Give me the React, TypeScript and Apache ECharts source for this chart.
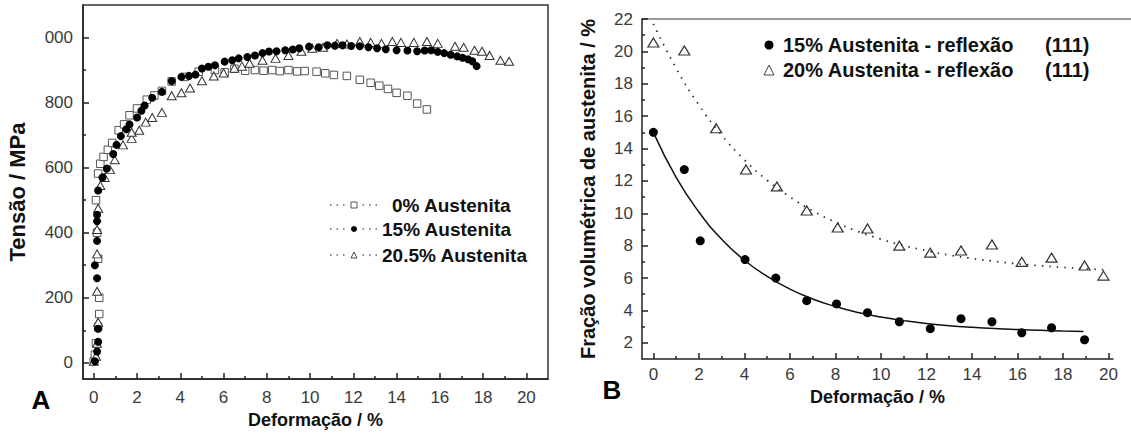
import React, { useEffect, useRef } from 'react';
import * as echarts from 'echarts';

const FONT = 'Liberation Sans, Arial, Helvetica, sans-serif';

// ---- axis ticks ----
const xMajorTicks = [0, 2, 4, 6, 8, 10, 12, 14, 16, 18, 20];
const xMinorTicks = [1, 3, 5, 7, 9, 11, 13, 15, 17, 19];
const yMajorTicksA = [0, 200, 400, 600, 800, 1000];
const yMinorTicksA = [100, 300, 500, 700, 900];
const yMajorTicksB = [2, 4, 6, 8, 10, 12, 14, 16, 18, 20, 22];
const yMinorTicksB = [3, 5, 7, 9, 11, 13, 15, 17, 19, 21];

// ---- texts ----
const legendA = ['0% Austenita', '15% Austenita', '20.5% Austenita'];
const legendB = ['15% Austenita - reflexão', '20% Austenita - reflexão'];
const legendBPlane = '(111)';

// ---- panel A: stress-strain (x = deformação %, y = tensão MPa) ----
const austenita0: number[][] = [
  [0, 5], [0.05, 25], [0.1, 60], [0.2, 110], [0.25, 150], [0.25, 200], [0.2, 320], [0.15, 400],
  [0.1, 500], [0.2, 582], [0.3, 612], [0.45, 633], [0.65, 655], [0.85, 676], [1.15, 715],
  [1.4, 733], [1.65, 761], [2.0, 782], [2.45, 809], [2.8, 822], [3.15, 836], [3.6, 865],
  [4.2, 879], [4.85, 895], [5.6, 900], [6.05, 893], [6.5, 904], [7.0, 898], [7.45, 900],
  [7.85, 898], [8.25, 900], [8.6, 897], [9.0, 900], [9.4, 896], [9.75, 897], [10.3, 895],
  [10.7, 890], [11.1, 885], [11.7, 882], [12.3, 870], [12.8, 861], [13.2, 852], [13.6, 842],
  [14.0, 830], [14.5, 821], [14.95, 797], [15.4, 779],
];
const austenita15: number[][] = [
  [0.05, 5], [0.15, 35], [0.2, 65], [0.2, 105], [0.15, 260], [0.05, 300], [0.15, 375],
  [0.15, 435], [0.15, 455], [0.2, 530], [0.4, 570], [0.6, 597], [0.9, 642], [1.05, 670],
  [1.25, 697], [1.5, 718], [1.65, 733], [2.0, 754], [2.2, 775], [2.35, 791], [2.7, 815],
  [3.15, 833], [3.6, 866], [4.05, 879], [4.4, 882], [4.7, 886], [5.0, 905], [5.3, 910],
  [5.6, 915], [6.05, 926], [6.4, 930], [6.7, 936], [7.1, 940], [7.45, 945], [7.8, 952],
  [8.1, 957], [8.45, 958], [8.85, 961], [9.2, 963], [9.5, 967], [9.95, 972], [10.4, 970],
  [10.8, 976], [11.15, 975], [11.5, 976], [11.9, 974], [12.3, 973], [12.7, 970], [13.1, 967],
  [13.5, 964], [14.0, 961], [14.5, 960], [14.95, 958], [15.3, 960], [15.6, 961], [15.9, 956],
  [16.2, 952], [16.5, 947], [16.8, 942], [17.05, 938], [17.3, 933], [17.5, 927], [17.7, 912],
];
const austenita205: number[][] = [
  [0, 5], [0.1, 20], [0.15, 60], [0.2, 125], [0.15, 220], [0.15, 335], [0.15, 410], [0.2, 475],
  [0.3, 545], [0.5, 570], [0.75, 594], [0.97, 624], [1.35, 670], [1.75, 690], [1.75, 709],
  [2.1, 715], [2.4, 740], [2.7, 754], [3.15, 770], [3.6, 821], [4.05, 830], [4.45, 845],
  [5.0, 867], [5.55, 882], [6.0, 891], [6.5, 906], [6.85, 912], [7.2, 921], [7.8, 930],
  [8.4, 936], [9.0, 945], [9.6, 958], [10.1, 967], [10.6, 970], [11.25, 982], [11.7, 980],
  [12.3, 988], [12.8, 985], [13.3, 982], [13.8, 988], [14.2, 985], [14.8, 985], [15.4, 988],
  [15.9, 982], [16.7, 973], [17.1, 970], [17.6, 961], [17.95, 958], [18.3, 945], [18.8, 930],
  [19.2, 927],
];

// ---- panel B: volume fraction of austenite vs deformação ----
const reflex15Points: number[][] = [
  [0, 15.0], [1.36, 12.7], [2.06, 8.3], [4.03, 7.14], [5.38, 6.0], [6.74, 4.6], [8.05, 4.4],
  [9.41, 3.86], [10.81, 3.3], [12.17, 2.87], [13.52, 3.49], [14.88, 3.3], [16.19, 2.62],
  [17.5, 2.93], [18.95, 2.19],
];
const reflex15Fit: number[][] = [
  [0, 15.0], [1, 12.22], [2, 10.08], [3, 8.4], [4, 7.1], [5, 6.1], [6, 5.32], [7, 4.71],
  [8, 4.24], [9, 3.87], [10, 3.59], [11, 3.37], [12, 3.19], [13, 3.06], [14, 2.96],
  [15, 2.88], [16, 2.82], [17, 2.77], [18, 2.73], [18.9, 2.7],
];
const reflex20Points: number[][] = [
  [0, 20.55], [1.36, 20.05], [2.76, 15.25], [4.07, 12.7], [5.43, 11.66], [6.74, 10.17],
  [8.1, 9.12], [9.41, 9.06], [10.81, 8.0], [12.17, 7.57], [13.52, 7.7], [14.88, 8.07],
  [16.19, 7.0], [17.5, 7.26], [18.95, 6.77], [19.78, 6.15],
];
const reflex20Fit: number[][] = [
  [0, 21.7], [1, 18.96], [2, 16.69], [3, 14.83], [4, 13.3], [5, 12.04], [6, 11.01], [7, 10.15],
  [8, 9.45], [9, 8.87], [10, 8.4], [11, 8.01], [12, 7.69], [13, 7.42], [14, 7.21], [15, 7.03],
  [16, 6.88], [17, 6.76], [18, 6.66], [19, 6.58], [19.8, 6.51],
];

const lineStyle = { color: '#222', width: 1.5 };
const labelStyle = { fontSize: 17, color: '#3a3a3a', fontFamily: FONT };
const nameStyle = (size: number) => ({ fontSize: size, fontWeight: 'bold', color: '#111', fontFamily: FONT });

function mainAxis(grid: number, pos: string, min: number, max: number, ticks: number[], extra: any) {
  return {
    gridIndex: grid,
    type: 'value',
    position: pos,
    min,
    max,
    axisLine: { show: true, onZero: false, lineStyle },
    axisTick: { show: true, inside: true, length: 6, customValues: ticks, lineStyle },
    axisLabel: { show: true, customValues: ticks, ...labelStyle, margin: 10 },
    splitLine: { show: false },
    ...extra,
  };
}
function minorAxis(grid: number, pos: string, min: number, max: number, ticks: number[]) {
  return {
    gridIndex: grid,
    type: 'value',
    position: pos,
    min,
    max,
    axisLine: { show: false, onZero: false },
    axisTick: { show: true, inside: true, length: 3, customValues: ticks, lineStyle },
    axisLabel: { show: false },
    splitLine: { show: false },
  };
}

function legendSymbol(kind: string, cx: number, cy: number, s: number) {
  if (kind === 'rect') {
    return { type: 'rect', shape: { x: cx - s / 2, y: cy - s / 2, width: s, height: s }, style: { fill: '#fff', stroke: '#555', lineWidth: 1 } };
  }
  if (kind === 'circle') {
    return { type: 'circle', shape: { cx, cy, r: s / 2 }, style: { fill: '#000' } };
  }
  return {
    type: 'polygon',
    shape: { points: [[cx, cy - s / 2], [cx + s / 2, cy + s / 2], [cx - s / 2, cy + s / 2]] },
    style: { fill: '#fff', stroke: '#444', lineWidth: 1 },
  };
}

export default function App() {
  const ref = useRef<HTMLDivElement>(null);
  useEffect(() => {
    if (!ref.current) return;
    const chart = echarts.init(ref.current, undefined, { renderer: 'svg' });

    const legendARows = [205, 229, 255];
    const legendAX = [392, 382, 382];
    const legendAKinds = ['rect', 'circle', 'triangle'];
    const graphics: any[] = [];
    legendA.forEach((t, i) => {
      const y = legendARows[i];
      graphics.push({ type: 'line', shape: { x1: 330, y1: y, x2: 378, y2: y }, style: { stroke: '#666', lineWidth: 1.5, lineDash: [1.5, 5] } });
      graphics.push({ type: 'rect', shape: { x: 348, y: y - 5, width: 12, height: 10 }, style: { fill: '#fff' } });
      graphics.push(legendSymbol(legendAKinds[i], 354, y, 6));
      graphics.push({ type: 'text', x: legendAX[i], y, style: { text: t, font: `bold 19px ${FONT}`, fill: '#111', textAlign: 'left', textVerticalAlign: 'middle' } });
    });
    const legendBRows = [45, 70];
    const legendBKinds = ['circle', 'triangle'];
    legendB.forEach((t, i) => {
      const y = legendBRows[i];
      graphics.push(legendSymbol(legendBKinds[i], 769, y, i === 0 ? 9 : 10));
      graphics.push({ type: 'text', x: 783, y, style: { text: t, font: `bold 20px ${FONT}`, fill: '#111', textAlign: 'left', textVerticalAlign: 'middle' } });
      graphics.push({ type: 'text', x: 1045, y, style: { text: legendBPlane, font: `bold 20px ${FONT}`, fill: '#111', textAlign: 'left', textVerticalAlign: 'middle' } });
    });
    graphics.push({ type: 'line', shape: { x1: 642, y1: 19, x2: 1131, y2: 19 }, style: { stroke: '#777', lineWidth: 1.5 } });
    graphics.push({ type: 'text', x: 41, y: 400, style: { text: 'A', font: `bold 26px ${FONT}`, fill: '#000', textAlign: 'center', textVerticalAlign: 'middle' } });
    graphics.push({ type: 'text', x: 612, y: 390, style: { text: 'B', font: `bold 26px ${FONT}`, fill: '#000', textAlign: 'center', textVerticalAlign: 'middle' } });

    chart.setOption({
      animation: false,
      backgroundColor: '#fff',
      grid: [
        { left: 83, top: 5, width: 465, height: 380, show: true, borderColor: '#333', borderWidth: 1.5, backgroundColor: 'transparent' },
        { left: 642, top: 19, width: 471, height: 340 },
      ],
      xAxis: [
        mainAxis(0, 'bottom', -0.5, 21, xMajorTicks, {
          name: 'Deformação / %', nameLocation: 'middle', nameGap: 29, nameTextStyle: nameStyle(18),
        }),
        minorAxis(0, 'bottom', -0.5, 21, xMinorTicks),
        mainAxis(1, 'bottom', -0.5, 20.2, xMajorTicks, {
          name: 'Deformação / %', nameLocation: 'middle', nameGap: 26, nameTextStyle: nameStyle(18),
          axisLabel: { show: true, customValues: xMajorTicks, ...labelStyle, margin: 7 },
        }),
        minorAxis(1, 'bottom', -0.5, 20.2, xMinorTicks),
      ],
      yAxis: [
        mainAxis(0, 'left', -50, 1100, yMajorTicksA, {
          name: 'Tensão / MPa', nameLocation: 'middle', nameGap: 55, nameTextStyle: nameStyle(22),
          axisLabel: {
            show: true, customValues: yMajorTicksA, ...labelStyle, margin: 10,
            formatter: (v: number) => (v === 1000 ? '000' : String(v)),
          },
        }),
        minorAxis(0, 'left', -50, 1100, yMinorTicksA),
        mainAxis(1, 'left', 1, 22, yMajorTicksB, {
          name: 'Fração volumétrica de austenita / %', nameLocation: 'middle', nameGap: 44, nameTextStyle: nameStyle(20),
          axisLabel: { show: true, customValues: yMajorTicksB, ...labelStyle, margin: 9 },
        }),
        minorAxis(1, 'left', 1, 22, yMinorTicksB),
      ],
      series: [
        {
          name: legendA[0], type: 'scatter', xAxisIndex: 0, yAxisIndex: 0, data: austenita0,
          symbol: 'rect', symbolSize: 7.5, itemStyle: { color: '#fff', borderColor: '#555', borderWidth: 1, opacity: 1 },
        },
        {
          name: legendA[2], type: 'scatter', xAxisIndex: 0, yAxisIndex: 0, data: austenita205,
          symbol: 'triangle', symbolSize: [9, 8], itemStyle: { color: '#fff', borderColor: '#333', borderWidth: 1, opacity: 1 },
        },
        {
          name: legendA[1], type: 'scatter', xAxisIndex: 0, yAxisIndex: 0, data: austenita15,
          symbol: 'circle', symbolSize: 8, itemStyle: { color: '#000', opacity: 1 },
        },
        {
          name: 'fit 15%', type: 'line', xAxisIndex: 2, yAxisIndex: 2, data: reflex15Fit, smooth: true,
          showSymbol: false, symbol: 'none', lineStyle: { color: '#111', width: 1.5 },
        },
        {
          name: 'fit 20%', type: 'line', xAxisIndex: 2, yAxisIndex: 2, data: reflex20Fit, smooth: true,
          showSymbol: false, symbol: 'none', lineStyle: { color: '#333', width: 1.8, type: [1.5, 6] },
        },
        {
          name: legendB[0], type: 'scatter', xAxisIndex: 2, yAxisIndex: 2, data: reflex15Points,
          symbol: 'circle', symbolSize: 9, itemStyle: { color: '#000', opacity: 1 },
        },
        {
          name: legendB[1], type: 'scatter', xAxisIndex: 2, yAxisIndex: 2, data: reflex20Points,
          symbol: 'triangle', symbolSize: [11, 9], itemStyle: { color: '#fff', borderColor: '#333', borderWidth: 1.2, opacity: 1 },
        },
      ],
      graphic: { elements: graphics },
    });
    return () => chart.dispose();
  }, []);
  return <div ref={ref} style={{ position: 'absolute', left: 0, top: 0, width: 1131, height: 434 }} />;
}
